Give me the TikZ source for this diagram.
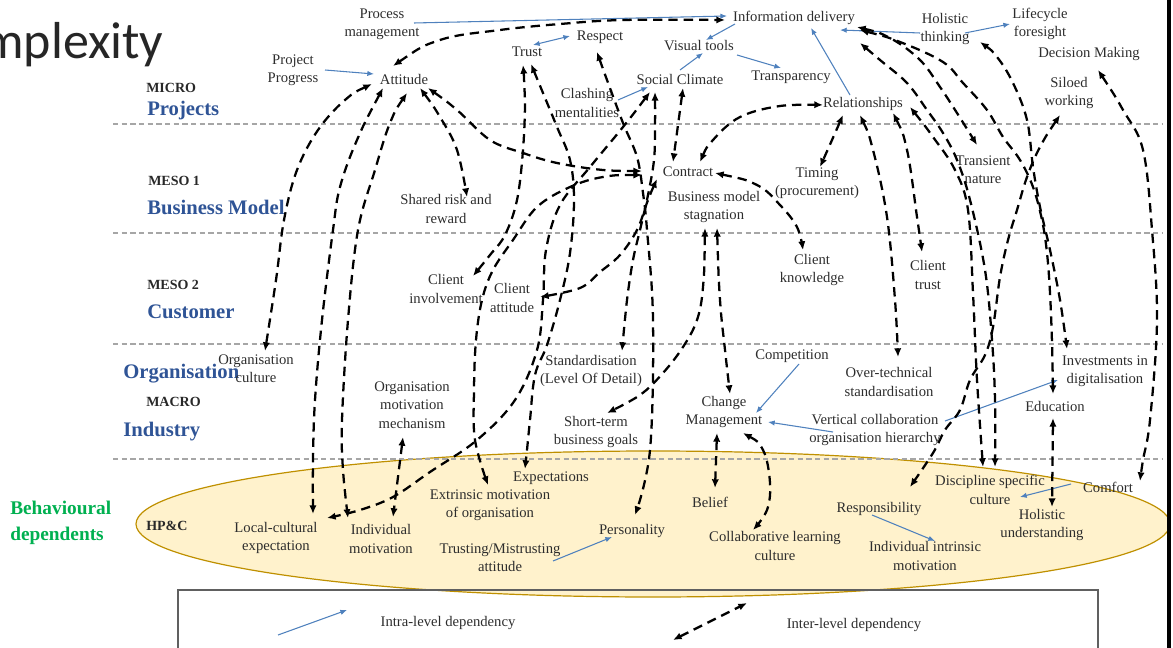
\documentclass[tikz,border=0pt]{standalone}
\usepackage{fontspec}
\setmainfont{Liberation Serif}
\newfontfamily\titlefont{Carlito}
\usetikzlibrary{arrows.meta,calc}
\definecolor{lvlblue}{RGB}{47,84,150}
\definecolor{intrablue}{RGB}{79,129,189}
\definecolor{behgreen}{RGB}{0,176,80}
\definecolor{ellfill}{RGB}{255,242,204}
\definecolor{elldraw}{RGB}{191,144,0}
\definecolor{txt}{RGB}{45,45,45}
\definecolor{lvltxt}{RGB}{40,40,40}
\begin{document}
\begin{tikzpicture}[x=0.75pt,y=-0.75pt,
  lbl/.style={align=center, font=\fontsize{11}{13.8}\selectfont, text=txt, inner sep=1pt},
  lvlname/.style={anchor=west, font=\bfseries\fontsize{15.5}{18}\selectfont, text=lvlblue, inner sep=0pt},
  lvlcode/.style={anchor=west, font=\bfseries\fontsize{10.5}{12}\selectfont, text=lvltxt, inner sep=0pt},
  dep/.style={draw=black, line width=1.7pt, dash pattern=on 7pt off 4.5pt,
    {Latex[length=6.5pt,width=5.5pt]}-{Latex[length=6.5pt,width=5.5pt]}},
  intra/.style={draw=intrablue, line width=0.8pt, -{Latex[length=5pt,width=4pt]}},
  sep/.style={draw=gray!70, line width=0.8pt, dash pattern=on 4pt off 2.5pt}
]
\useasboundingbox (0,0) rectangle (1173,648);

% title fragment
\begin{scope}
\clip (0,0) rectangle (400,100);
\node[anchor=base west, inner sep=0pt, text=black!85, font=\titlefont\fontsize{39}{42}\selectfont] (title) at (-18,59) {mplexity};
\end{scope}

% behavioural ellipse
\draw[fill=ellfill, draw=elldraw, line width=0.9pt] (653,524) ellipse [x radius=387.75pt, y radius=54.75pt];

% legend box
\draw[draw=gray!75!black, line width=0.8pt] (178,648) -- (178,590) -- (1098,590) -- (1098,648);

% right border
\fill[black] (1167,0) rectangle (1171,648);

% level separators
\draw[sep] (113,124) -- (1163,124);
\draw[sep] (113,233) -- (1163,233);
\draw[sep] (113,344) -- (1163,344);
\draw[sep] (113,459) -- (1163,459);

% level labels
\node[lvlcode] (micro) at (146,88) {MICRO};
\node[lvlname] (projects) at (147,111) {Projects};
\node[lvlcode] (meso1) at (148,181) {MESO 1};
\node[lvlname] (busmodel) at (147,207) {Business Model};
\node[lvlcode] (meso2) at (147,285) {MESO 2};
\node[lvlname] (customer) at (147,312) {Customer};
\node[lvlname] (organisation) at (123,374) {Organisation};
\node[lvlcode] (macro) at (146,402) {MACRO};
\node[lvlname] (industry) at (123,432) {Industry};
\node[lvlcode] (hpc) at (146,526) {HP\&C};
\node[anchor=west, align=left, inner sep=0pt, text=behgreen, font=\bfseries\fontsize{14.5}{19.5}\selectfont] (behav) at (10,523) {Behavioural\\dependents};

% nodes
\node[lbl] (proc) at (382,24) {Process\\management};
\node[lbl] (pp) at (293,70) {Project\\Progress};
\node[lbl] (att) at (404,79) {Attitude};
\node[lbl] (info) at (794,18) {Information delivery};
\node[lbl] (trust) at (527,52) {Trust};
\node[lbl] (resp) at (600,37) {Respect};
\node[lbl] (vis) at (699,46) {Visual tools};
\node[lbl] (soc) at (680,79) {Social Climate};
\node[lbl] (transp) at (791,77) {Transparency};
\node[lbl] (clash) at (587,103) {Clashing\\mentalities};
\node[lbl] (rel) at (863,104) {Relationships};
\node[lbl] (holt) at (945,29) {Holistic\\thinking};
\node[lbl] (life) at (1040,24) {Lifecycle\\foresight};
\node[lbl] (dec) at (1089,54) {Decision Making};
\node[lbl] (silo) at (1069,93) {Siloed\\working};
\node[lbl] (contract) at (688,172) {Contract};
\node[lbl] (shared) at (446,209) {Shared risk and\\reward};
\node[lbl] (bms) at (714,207) {Business model\\stagnation};
\node[lbl] (timing) at (817,183) {Timing\\(procurement)};
\node[lbl] (trans) at (983,170) {Transient\\nature};
\node[lbl] (cknow) at (812,270) {Client\\knowledge};
\node[lbl] (ctrust) at (928,275) {Client\\trust};
\node[lbl] (cinv) at (446,289) {Client\\involvement};
\node[lbl] (catt) at (512,298) {Client\\attitude};
\node[lbl] (oc) at (256,369) {Organisation\\culture};
\node[lbl] (std) at (591,371) {Standardisation\\(Level Of Detail)};
\node[lbl] (comp) at (792,356) {Competition};
\node[lbl] (otech) at (889,382) {Over-technical\\standardisation};
\node[lbl] (invest) at (1105,371) {Investments in\\digitalisation};
\node[lbl] (omm) at (412,405) {Organisation\\motivation\\mechanism};
\node[lbl] (cm) at (724,412) {Change\\Management};
\node[lbl] (vc) at (875,430) {Vertical collaboration\\organisation hierarchy};
\node[lbl] (stb) at (596,432) {Short-term\\business goals};
\node[lbl] (edu) at (1055,406) {Education};
\node[lbl] (expec) at (551,478) {Expectations};
\node[lbl] (extr) at (490,505) {Extrinsic motivation\\of organisation};
\node[lbl] (lce) at (276,538) {Local-cultural\\expectation};
\node[lbl] (indm) at (381,539) {Individual\\motivation};
\node[lbl] (tma) at (500,558) {Trusting/Mistrusting\\attitude};
\node[lbl] (pers) at (632,531) {Personality};
\node[lbl] (belief) at (710,502) {Belief};
\node[lbl] (clc) at (775,546) {Collaborative learning\\culture};
\node[lbl] (respo) at (879,509) {Responsibility};
\node[lbl] (iim) at (925,556) {Individual intrinsic\\motivation};
\node[lbl] (dsc) at (990,490) {Discipline specific\\culture};
\node[lbl] (comfort) at (1108,487) {Comfort};
\node[lbl] (hu) at (1042,525) {Holistic\\understanding};
\node[lbl] (lgintra) at (448,623) {Intra-level dependency};
\node[lbl] (lginter) at (854,625) {Inter-level dependency};

% intra-level (blue) dependencies
\draw[intra] ($(proc)+(32,-1)$) -- ($(info)+(-67,-2)$);
\draw[intra] ($(pp)+(32,0)$) -- ($(att)+(-30,-5)$);
\draw[intra, {Latex[length=5pt,width=4pt]}-{Latex[length=5pt,width=4pt]}] ($(trust)+(6,-7)$) -- ($(resp)+(-30,-1)$);
\draw[intra] ($(info)+(-59,6)$) -- ($(vis)+(7,-6)$);
\draw[intra] ($(soc)+(0,-9)$) -- ($(vis)+(4,7)$);
\draw[intra] ($(vis)+(38,9)$) -- ($(transp)+(-10,-9)$);
\draw[intra] ($(clash)+(31,-3)$) -- ($(soc)+(-32,8)$);
\draw[intra] ($(rel)+(-13,-9)$) -- ($(info)+(17,10)$);
\draw[intra] ($(holt)+(-25,4)$) -- ($(info)+(46,12)$);
\draw[intra] ($(holt)+(20,4)$) -- ($(life)+(-30,0)$);
\draw[intra] ($(comp)+(7,8)$) -- ($(cm)+(32,1)$);
\draw[intra] ($(vc)+(-42,2)$) -- ($(cm)+(44,10)$);
\draw[intra] ($(vc)+(70,-9)$) -- ($(invest)+(-47,9)$);
\draw[intra] ($(tma)+(53,3)$) -- ($(pers)+(-20,6)$);
\draw[intra] ($(respo)+(-7,6)$) -- ($(iim)+(10,-15)$);
\draw[intra] ($(comfort)+(-37,-3)$) -- ($(dsc)+(30,7)$);

% end points of inter-level dependencies
\path ($(att)+(-11,-13)$) coordinate (s1) ($(info)+(-69,2)$) coordinate (e1)
      ($(att)+(-32,5)$) coordinate (s2) ($(oc)+(9,-18)$) coordinate (e2)
      ($(att)+(-21,9)$) coordinate (s3) ($(lce)+(37,-24)$) coordinate (e3)
      ($(att)+(3,14)$) coordinate (s4) ($(indm)+(-33,-21)$) coordinate (e4)
      ($(att)+(16,9)$) coordinate (s5) ($(shared)+(21,-12)$) coordinate (e5)
      ($(att)+(24,9)$) coordinate (s6) ($(contract)+(-46,-1)$) coordinate (e6)
      ($(trust)+(-4,13)$) coordinate (s7) ($(cinv)+(27,-13)$) coordinate (e7)
      ($(trust)+(4,12)$) coordinate (s8) ($(expec)+(-26,-9)$) coordinate (e8)
      ($(contract)+(-46,3)$) coordinate (s9) ($(extr)+(-2,-20)$) coordinate (e9)
      ($(soc)+(-30,13)$) coordinate (s10) ($(lce)+(51,-20)$) coordinate (e10)
      ($(soc)+(-25,13)$) coordinate (s11) ($(std)+(31,-20)$) coordinate (e11)
      ($(soc)+(3,9)$) coordinate (s12) ($(contract)+(-15,-10)$) coordinate (e12)
      ($(contract)+(-31,7)$) coordinate (s13) ($(catt)+(28,-1)$) coordinate (e13)
      ($(resp)+(-3,15)$) coordinate (s14) ($(pers)+(3,-16)$) coordinate (e14)
      ($(contract)+(12,-10)$) coordinate (s15) ($(rel)+(-40,1)$) coordinate (e15)
      ($(contract)+(27,1)$) coordinate (s16) ($(cknow)+(-9,-20)$) coordinate (e16)
      ($(rel)+(-20,11)$) coordinate (s17) ($(timing)+(3,-16)$) coordinate (e17)
      ($(rel)+(-3,11)$) coordinate (s18) ($(otech)+(9,-25)$) coordinate (e18)
      ($(rel)+(30,9)$) coordinate (s19) ($(ctrust)+(-6,-23)$) coordinate (e19)
      ($(rel)+(47,3)$) coordinate (s20) ($(dsc)+(-7,-23)$) coordinate (e20)
      ($(info)+(63,9)$) coordinate (s21) ($(trans)+(-6,-25)$) coordinate (e21)
      ($(info)+(66,12)$) coordinate (s22) ($(edu)+(-2,-12)$) coordinate (e22)
      ($(info)+(66,25)$) coordinate (s23) ($(dsc)+(5,-23)$) coordinate (e23)
      ($(holt)+(35,13)$) coordinate (s24) ($(invest)+(-38,-22)$) coordinate (e24)
      ($(silo)+(-9,22)$) coordinate (s25) ($(respo)+(31,-22)$) coordinate (e25)
      ($(dec)+(9,16)$) coordinate (s26) ($(comfort)+(32,-6)$) coordinate (e26)
      ($(edu)+(-2,12)$) coordinate (s27) ($(hu)+(10,-18)$) coordinate (e27)
      ($(bms)+(3,21)$) coordinate (s28) ($(cm)+(6,-18)$) coordinate (e28)
      ($(bms)+(-9,21)$) coordinate (s29) ($(stb)+(11,-19)$) coordinate (e29)
      ($(cm)+(-7,21)$) coordinate (s30) ($(belief)+(5,-14)$) coordinate (e30)
      ($(cm)+(19,21)$) coordinate (s31) ($(clc)+(-22,-16)$) coordinate (e31)
      ($(omm)+(-9,32)$) coordinate (s32) ($(indm)+(12,-22)$) coordinate (e32);

% inter-level (black dashed) dependencies
\draw[dep] plot[smooth,tension=.6] coordinates {(s1) (440,40) (500,30) (560,24) (623,20) (e1)};
\draw[dep] plot[smooth,tension=.6] coordinates {(s2) (345,100) (318,130) (297,170) (284,220) (276,280) (e2)};
\draw[dep] plot[smooth,tension=.6] coordinates {(s3) (357,140) (340,187) (333,230) (322,320) (315,400) (313,460) (e3)};
\draw[dep] plot[smooth,tension=.6] coordinates {(s4) (390,123) (375,170) (358,230) (348,320) (342,420) (343,470) (e4)};
\draw[dep] plot[smooth,tension=.6] coordinates {(s5) (440,117) (457,150) (e5)};
\draw[dep] plot[smooth,tension=.6] coordinates {(s6) (457,110) (490,140) (523,153) (557,163) (603,170) (e6)};
\draw[dep] plot[smooth,tension=.6] coordinates {(s7) (525,100) (523,150) (517,200) (505,235) (490,255) (e7)};
\draw[dep] plot[smooth,tension=.6] coordinates {(s8) (543,93) (557,127) (570,160) (574,200) (570,253) (560,300) (547,345) (535,375) (530,420) (527,450) (e8)};
\draw[dep] plot[smooth,tension=.6] coordinates {(s9) (603,177) (570,187) (537,207) (513,240) (493,270) (482,300) (476,340) (474,390) (475,440) (e9)};
\draw[dep] plot[smooth,tension=.6] coordinates {(s10) (623,127) (590,167) (560,205) (546,250) (543,300) (537,350) (515,400) (477,440) (430,472) (393,497) (360,510) (e10)};
\draw[dep] plot[smooth,tension=.6] coordinates {(s11) (655,127) (654,160) (648,195) (640,230) (633,260) (627,300) (e11)};
\draw[dep] plot[smooth,tension=.6] coordinates {(s12) (678,125) (e12)};
\draw[dep] plot[smooth,tension=.6] coordinates {(s13) (648,200) (637,230) (620,255) (600,272) (580,288) (e13)};
\draw[dep] plot[smooth,tension=.6] coordinates {(s14) (607,80) (623,123) (637,157) (643,193) (647,230) (653,320) (650,450) (e14)};
\draw[dep] plot[smooth,tension=.6] coordinates {(s15) (713,140) (740,117) (780,106) (e15)};
\draw[dep] plot[smooth,tension=.6] coordinates {(s16) (757,185) (780,205) (797,227) (e16)};
\draw[dep] plot[smooth,tension=.6] coordinates {(s17) (832,140) (e17)};
\draw[dep] plot[smooth,tension=.6] coordinates {(s18) (873,150) (887,217) (895,300) (e18)};
\draw[dep] plot[smooth,tension=.6] coordinates {(s19) (907,150) (917,217) (e19)};
\draw[dep] plot[smooth,tension=.6] coordinates {(s20) (933,137) (955,170) (968,210) (973,293) (977,380) (e20)};
\draw[dep] plot[smooth,tension=.6] coordinates {(s21) (890,38) (920,60) (940,87) (957,113) (e21)};
\draw[dep] plot[smooth,tension=.6] coordinates {(s22) (900,42) (943,62) (963,83) (987,110) (1003,137) (1020,160) (1033,187) (1042,220) (1047,253) (1050,293) (1052,343) (e22)};
\draw[dep] plot[smooth,tension=.6] coordinates {(s23) (880,60) (907,83) (927,110) (943,133) (957,160) (970,200) (985,270) (992,340) (995,400) (e23)};
\draw[dep] plot[smooth,tension=.6] coordinates {(s24) (997,57) (1013,83) (1027,120) (1033,167) (1040,207) (1050,250) (1060,300) (e24)};
\draw[dep] plot[smooth,tension=.6] coordinates {(s25) (1040,147) (1027,177) (1017,210) (1008,240) (1000,277) (993,327) (985,355) (970,380) (960,410) (945,430) (933,453) (e25)};
\draw[dep] plot[smooth,tension=.6] coordinates {(s26) (1123,110) (1143,150) (1152,230) (1157,320) (1150,420) (1143,460) (e26)};
\draw[dep] (s27) -- (e27);
\draw[dep] plot[smooth,tension=.6] coordinates {(s28) (720,300) (725,350) (e28)};
\draw[dep] plot[smooth,tension=.6] coordinates {(s29) (703,287) (697,320) (683,347) (663,373) (640,395) (e29)};
\draw[dep] (s30) -- (e30);
\draw[dep] plot[smooth,tension=.6] coordinates {(s31) (763,450) (770,483) (767,510) (e31)};
\draw[dep] (s32) -- (e32);

% legend samples
\coordinate (lg1a) at (278,635);
\coordinate (lg1b) at (347,610);
\coordinate (lg2a) at (673,640);
\coordinate (lg2b) at (747,603);
\draw[intra] (lg1a) -- (lg1b);
\draw[dep] (lg2a) -- (lg2b);
\end{tikzpicture}
\end{document}
